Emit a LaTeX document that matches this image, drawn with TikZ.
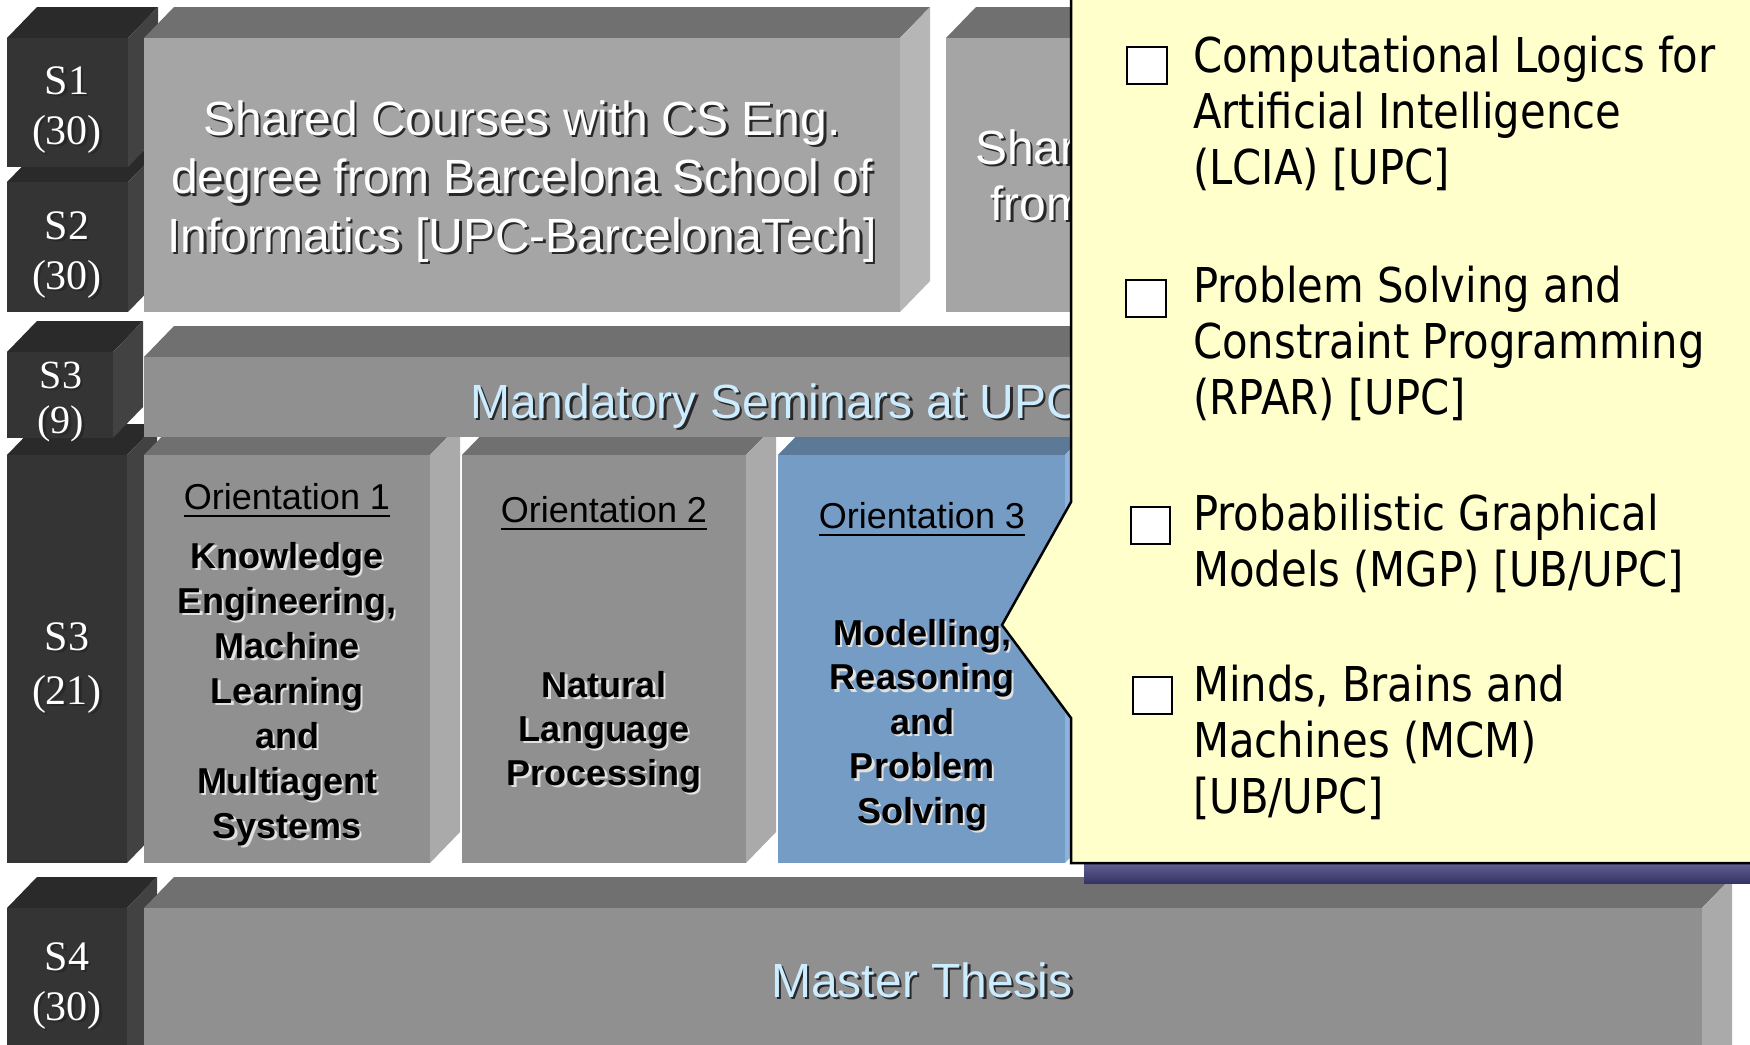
\documentclass[tikz,border=0pt]{standalone}
\usepackage{fontspec}
\setmainfont{Liberation Sans}
\newfontfamily\arialf{Liberation Sans}
\newfontfamily\tnr{Liberation Serif}
\newfontfamily\tahoma[FakeStretch=0.87]{DejaVu Sans}
\definecolor{darkfront}{RGB}{52,52,52}
\definecolor{darktop}{RGB}{42,42,42}
\definecolor{darkside}{RGB}{66,66,66}
\definecolor{shfront}{RGB}{165,165,165}
\definecolor{gtop}{RGB}{112,112,112}
\definecolor{shside}{RGB}{182,182,182}
\definecolor{bfront}{RGB}{144,144,144}
\definecolor{bside}{RGB}{170,170,170}
\definecolor{bluefront}{RGB}{117,156,197}
\definecolor{bluetop}{RGB}{92,122,152}
\definecolor{blueside}{RGB}{142,178,222}
\definecolor{lightblue}{RGB}{204,236,255}
\definecolor{callfill}{RGB}{255,255,204}
\definecolor{txtshadow}{RGB}{40,40,40}
\definecolor{lightshadow}{RGB}{225,225,225}
\definecolor{shadowtop}{RGB}{125,125,182}
\definecolor{shadowbot}{RGB}{52,52,100}
% front x1,y1,x2,y2 ; colours front, top, side
\newcommand\cube[7]{%
  \fill[#6] (#1,#2) -- ({#1+30},{#2-31}) -- ({#3+30},{#2-31}) -- (#3,#2) -- cycle;
  \fill[#7] (#3,#2) -- ({#3+30},{#2-31}) -- ({#3+30},{#4-31}) -- (#3,#4) -- cycle;
  \fill[#5] (#1,#2) rectangle (#3,#4);}
% name, position (baseline of the LAST line), options, shadow colour, text
\newcommand\stext[5]{%
  \node[#3,text=#4,xshift=2.5pt,yshift=-2.5pt] (#1-sh) at #2 {#5};
  \node[#3] (#1) at #2 {#5};}
\tikzset{
  semlbl/.style={font={\tnr\fontsize{42}{50}\selectfont}, text=white, align=center, anchor=base, inner sep=0pt},
  bigtxt/.style={font={\arialf\fontsize{48}{58.5}\selectfont}, align=center, anchor=base, inner sep=0pt},
  orhead/.style={font={\arialf\fontsize{36}{44}\selectfont}, text=black, anchor=base, inner sep=0pt},
  orbody/.style={font={\arialf\bfseries\fontsize{36}{45}\selectfont}, text=black, align=center, anchor=base, inner sep=0pt},
  calltxt/.style={font={\tahoma\fontsize{48}{56}\selectfont}, text=black, align=left, anchor=base west, inner sep=0pt},
  chk/.style={fill=white, draw=black, line width=2.4pt}
}
\begin{document}
\begin{tikzpicture}[x=1pt,y=-1pt]
\useasboundingbox (0,0) rectangle (1750,1044);
\clip (0,0) rectangle (1750,1044);
\fill[white] (0,0) rectangle (1750,1044);

% ---- row 1
\cube{7}{182}{128}{312}{darkfront}{darktop}{darkside}
\cube{7}{38}{128}{167}{darkfront}{darktop}{darkside}
\cube{144}{38}{900}{312}{shfront}{gtop}{shside}
\cube{946}{38}{1300}{312}{shfront}{gtop}{shside}

% ---- row 2 / 3
\cube{7}{455}{127}{863}{darkfront}{darktop}{darkside}
\cube{7}{352}{113}{438}{darkfront}{darktop}{darkside}
\cube{144}{455}{430}{863}{bfront}{gtop}{bside}
\cube{462}{455}{746}{863}{bfront}{gtop}{bside}
\cube{778}{455}{1065}{863}{bluefront}{bluetop}{blueside}
\cube{144}{357}{1300}{437}{bfront}{gtop}{bside}

% ---- row 4
\cube{7}{908}{127}{1100}{darkfront}{darktop}{darkside}
\cube{144}{908}{1702}{1100}{bfront}{gtop}{bside}

% ---- semester labels
\stext{s1}{(67,144)}{semlbl}{txtshadow}{S1\\(30)}
\stext{s2}{(67,289)}{semlbl}{txtshadow}{S2\\(30)}
\stext{s3a}{(61,433)}{semlbl,font={\tnr\fontsize{40}{45}\selectfont}}{txtshadow}{S3\\(9)}
\stext{s3b}{(67,704)}{semlbl,font={\tnr\fontsize{42}{54}\selectfont}}{txtshadow}{S3\\(21)}
\stext{s4}{(67,1020)}{semlbl}{txtshadow}{S4\\(30)}

% ---- big texts
\stext{shared}{(522,252)}{bigtxt,text=white}{txtshadow}{Shared Courses with CS Eng.\\degree from Barcelona School of\\Informatics [UPC-BarcelonaTech]}
\stext{sharb}{(975,164)}{bigtxt,text=white,anchor=base west}{txtshadow}{Shar}
\stext{sharc}{(990,220)}{bigtxt,text=white,anchor=base west}{txtshadow}{from}
\stext{mand}{(470,418)}{bigtxt,text=lightblue,anchor=base west}{txtshadow}{Mandatory Seminars at UPC}
\stext{thesis}{(922,997)}{bigtxt,text=lightblue}{txtshadow}{Master Thesis}

% ---- orientations
\node[orhead] (o1) at (287,509) {Orientation 1};
\node[orhead] (o2) at (604,522) {Orientation 2};
\node[orhead] (o3) at (922,528) {Orientation 3};
\foreach \n in {o1,o2,o3}
  \draw[line width=2.2pt] ([yshift=-7pt]\n.base west) -- ([yshift=-7pt]\n.base east);
\stext{b1}{(287,838)}{orbody}{lightshadow}{Knowledge\\Engineering,\\Machine\\Learning\\and\\Multiagent\\Systems}
\stext{b2}{(604,785)}{orbody,font={\arialf\bfseries\fontsize{36}{44}\selectfont}}{lightshadow}{Natural\\Language\\Processing}
\stext{b3}{(922,823)}{orbody,font={\arialf\bfseries\fontsize{36}{44.5}\selectfont}}{lightshadow}{Modelling,\\Reasoning\\and\\Problem\\Solving}

% ---- callout
\shade[top color=shadowtop, bottom color=shadowbot] (1084,850) rectangle (1770,883);
\filldraw[fill=callfill, draw=black, line width=2.5pt]
  (1071,-20) -- (1770,-20) -- (1770,863) -- (1071,863) -- (1071,718)
  -- (1002,625) -- (1071,502) -- cycle;
\draw[chk] (1127,47) rectangle (1167,84);
\draw[chk] (1126,280) rectangle (1166,317);
\draw[chk] (1131,507) rectangle (1170,544);
\draw[chk] (1133,677) rectangle (1172,714);
\node[calltxt] (c1) at (1193,184) {Computational Logics for\\Artificial Intelligence\\(LCIA) [UPC]};
\node[calltxt] (c2) at (1193,414) {Problem Solving and\\Constraint Programming\\(RPAR) [UPC]};
\node[calltxt] (c3) at (1193,586) {Probabilistic Graphical\\Models (MGP) [UB/UPC]};
\node[calltxt] (c4) at (1193,813) {Minds, Brains and\\Machines (MCM)\\{[UB/UPC]}};
\end{tikzpicture}
\end{document}
